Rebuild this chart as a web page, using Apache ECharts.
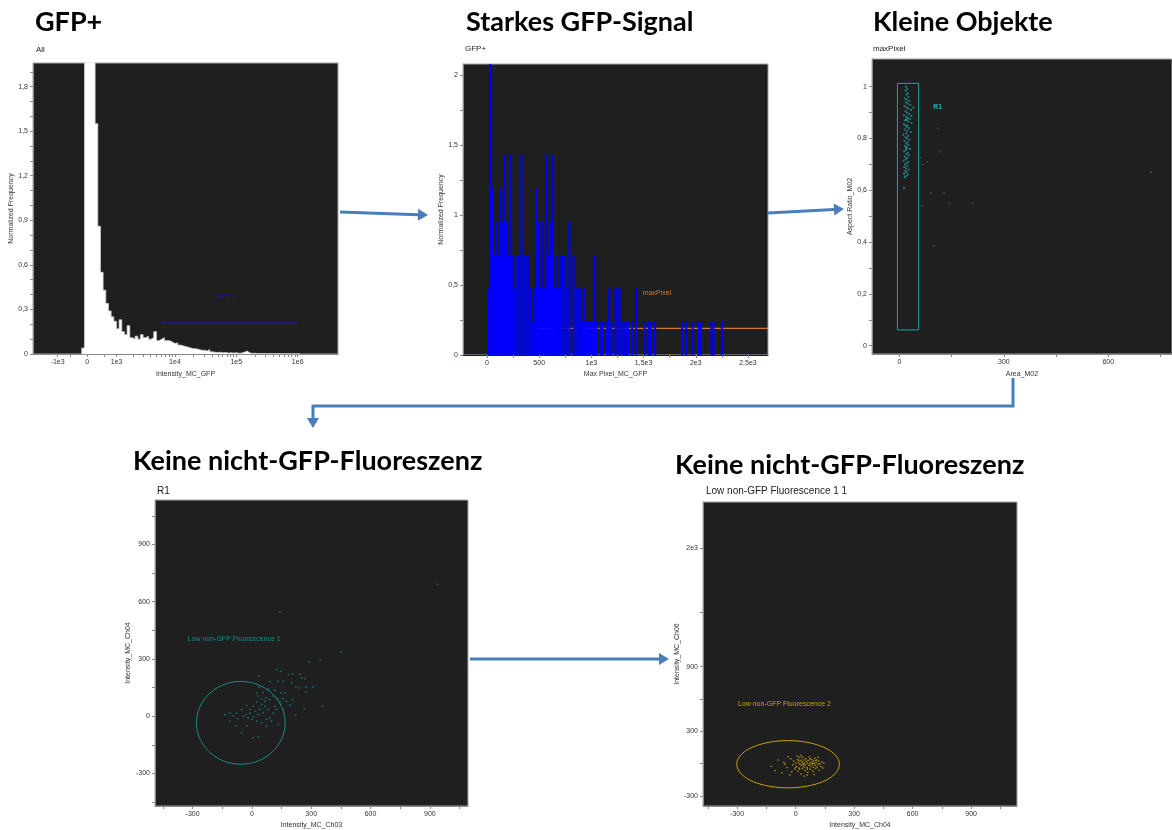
<!DOCTYPE html>
<html>
<head>
<meta charset="utf-8">
<script src="https://cdn.jsdelivr.net/npm/echarts@6/dist/echarts.min.js"></script>
<style>
  html, body { margin: 0; padding: 0; background: #ffffff; }
  #chart { width: 1172px; height: 830px; }
</style>
</head>
<body>
<div id="chart"></div>
<script>
// ---------------- Data ----------------

// Panel 1: Intensity_MC_GFP histogram (population "All").
// Bins are equal width on the asinh display scale, starting at gfpBinStart.
const gfpBinStart = -0.2;
const gfpBinWidth = 0.1;
const gfpFreq = [
  0.04, 2.9, 3.3, 3.1, 2.6, 1.55, 0.86, 0.55, 0.43, 0.34,
  0.29, 0.25, 0.22, 0.17, 0.23, 0.15, 0.13, 0.19, 0.11, 0.10,
  0.12, 0.10, 0.13, 0.11, 0.12, 0.10, 0.11, 0.15, 0.09, 0.10,
  0.11, 0.09, 0.09, 0.08, 0.07, 0.075, 0.06, 0.055, 0.05, 0.045,
  0.04, 0.035, 0.035, 0.03, 0.025, 0.025, 0.02, 0.03, 0.015, 0.012,
  0.01, 0.012, 0.008, 0.01, 0.006, 0.008, 0.006, 0.008, 0.005, 0.006,
  0.012, 0.02, 0.008, 0.004, 0.005, 0.003, 0.004, 0.002, 0.003, 0.002,
  0.004, 0.002, 0.002, 0.003, 0.001, 0.002, 0.001, 0.002, 0.001, 0.001,
  0.002, 0.001
];
const gfpTickValues = [-1000, 0, 1000, 10000, 100000, 1000000];
const gfpTickLabels = ['-1e3', '0', '1e3', '1e4', '1e5', '1e6'];
// GFP+ gate: [from, to, frequency level], label anchor [intensity, frequency]
const gfpGate = [6000, 1000000, 0.21];
const gfpGateLabel = [48000, 0.38];

// Panel 2: Max Pixel_MC_GFP histogram (population "GFP+"), 20-unit bins from 0.
const maxPixelBinWidth = 20;
const maxPixelFreq = [
  0.476, 2.14, 1.19, 0.714, 0.952, 0.714, 1.19, 0.952, 1.43, 0.952,
  0.714, 1.43, 0.714, 0.476, 0.714, 0.714, 1.43, 0.714, 0.714, 0.714,
  0.476, 0.238, 0.476, 1.19, 0.952, 0.476, 0.952, 0.476, 1.43, 0.714,
  0.952, 1.43, 0.476, 0.714, 0.476, 0.714, 0.714, 0.714, 0.476, 0.952,
  0, 0.714, 0.476, 0.476, 0.476, 0.238, 0.476, 0.238, 0.238, 0.238,
  0.238, 0.714, 0.238, 0, 0.238, 0.238, 0, 0.238, 0.476, 0.238,
  0, 0.476, 0.476, 0.476, 0.238, 0.238, 0.238, 0.238, 0, 0.238,
  0, 0.476, 0, 0, 0, 0.238, 0, 0.238, 0.238, 0,
  0.238, 0, 0, 0, 0, 0, 0, 0, 0, 0,
  0, 0, 0, 0.238, 0, 0.238, 0, 0, 0.238, 0,
  0, 0.238, 0.238, 0, 0, 0, 0, 0.238, 0.238, 0,
  0, 0, 0.238
];
const maxPixelGate = [447, 2692, 0.19];
const maxPixelGateLabel = [1493, 0.44];

// Panel 3: Area_M02 vs Aspect Ratio_M02 (population "maxPixel")
const r1Area = [
  19, 22, 17, 24, 20, 26, 15, 21, 28, 18, 23, 31, 14, 20, 25, 33, 17, 22, 28, 12,
  19, 24, 30, 16, 21, 26, 35, 13, 18, 23, 20, 27, 15, 22, 32, 19, 11, 25, 17, 21,
  28, 14, 23, 19, 26, 16, 21, 30, 18, 13, 24, 20, 27, 15, 22, 18, 12, 25, 20, 16,
  23, 14, 19, 26, 17, 21, 13, 24, 18, 15, 13, 34, 40, 20, 20, 20
];
const r1Aspect = [
  1.0, 0.99, 0.985, 0.975, 0.97, 0.96, 0.955, 0.95, 0.945, 0.94, 0.935, 0.93, 0.925, 0.92, 0.915, 0.91, 0.905, 0.9, 0.895, 0.89,
  0.885, 0.88, 0.875, 0.87, 0.87, 0.865, 0.86, 0.855, 0.85, 0.85, 0.845, 0.84, 0.835, 0.83, 0.825, 0.82, 0.815, 0.81, 0.805, 0.8,
  0.795, 0.79, 0.785, 0.78, 0.775, 0.77, 0.765, 0.76, 0.755, 0.75, 0.745, 0.74, 0.735, 0.73, 0.725, 0.72, 0.715, 0.71, 0.705, 0.7,
  0.695, 0.69, 0.685, 0.68, 0.675, 0.67, 0.665, 0.66, 0.655, 0.65, 0.61, 0.887, 0.92, 0.875, 0.76, 0.765
];
const otherArea = [110, 117, 60, 80, 66, 90, 128, 64, 144, 211, 98, 723];
const otherAspect = [0.84, 0.75, 0.727, 0.71, 0.70, 0.59, 0.59, 0.54, 0.55, 0.55, 0.385, 0.67];
// R1 gate rectangle: [areaMin, areaMax, aspectMin, aspectMax], label anchor
const r1Gate = [-6, 55, 0.061, 1.013];
const r1GateLabel = [97, 0.92];

// Panel 4: Intensity_MC_Ch03 vs Intensity_MC_Ch04 (population "R1")
const ch03 = [
  939, 142, 450, 346, 290, 37, 125, 145, 184, 206, 243, 253, 270, 91, 133, 159, 201, 223, 238, 273,
  310, 273, 116, 83, 147, 108, 130, 159, 175, 206, 192, 142, 265, 356, 221, 57, 74, 32, 24, 49,
  7, -10, -27, -52, -78, -94, -44, -19, 7, 32, 57, 83, 108, 133, 49, 24, 0, -27, -81, -111,
  7, 32, -52, 74, 91, 40, 66, 15, -10, -30, 116, 159, -71, -111, -137, 74, 99, 125, 167, 91,
  66, 49, 24, 37
];
const ch04 = [
  692, 547, 336, 295, 284, 209, 244, 235, 218, 221, 220, 200, 197, 180, 183, 183, 174, 153, 148, 152,
  153, 125, 136, 143, 122, 105, 92, 92, 78, 87, 58, 73, 38, 52, 5, 122, 96, 105, 73, 61,
  52, 35, 56, 35, 17, 0, 0, -9, -3, 9, 17, 35, 17, -44, -35, -26, -17, -52, -52, -26,
  -113, -108, -87, -17, -9, 35, 52, 26, 17, 9, 52, 35, -14, 17, 9, -52, -26, 35, 122, 87,
  78, 92, 122, 153
];
// Ellipse gate: [centerX, centerY, radiusX, radiusY], label anchor
const lowFluo1Gate = [-56, -35, 224, 217];
const lowFluo1Label = [-325, 406];

// Panel 5: Intensity_MC_Ch04 vs Intensity_MC_Ch06 (population "Low non-GFP Fluorescence 1 1")
const ch04b = [
  -125, -105, -90, -70, -60, -45, -30, -25, -15, -10, -5, 0, 5, 10, 12, 15, 18, 20, 22, 25,
  28, 30, 32, 35, 38, 40, 42, 45, 48, 50, 52, 55, 58, 60, 62, 65, 68, 70, 72, 75,
  78, 80, 82, 85, 88, 90, 92, 95, 98, 100, 103, 105, 108, 110, 115, 118, 120, 125, 130, 135,
  140, 145, -40, -20, 8, 28, 60, 45, 95, 115, -55, 0, 20, 35, 75, 88, 102, 60, 40, 15
];
const ch06 = [
  -25, -65, 35, -85, 10, -35, -105, 45, -10, 25, -50, 5, -25, 40, -70, 10, -40, 60, -5, 30,
  -95, -15, 15, -45, 0, 35, -30, 10, -65, -10, 45, 25, -35, 5, -80, 30, -15, 65, 0, -50,
  15, -25, 40, -5, -70, 25, -35, 5, 50, -15, -45, 10, 35, -30, -5, 25, -60, 0, -25, 15,
  -40, 5, 65, -75, 70, 75, -105, -115, -100, 60, -5, -35, -50, 60, 45, 5, 30, -50, -10, 30
];
const lowFluo2Gate = [-39, -5, 263, 219];
const lowFluo2Label = [-296, 550];

// Headings above each plot and the population captions
const panelTitles = ['GFP+', 'Starkes GFP-Signal', 'Kleine Objekte', 'Keine nicht-GFP-Fluoreszenz', 'Keine nicht-GFP-Fluoreszenz'];
const plotCaptions = ['All', 'GFP+', 'maxPixel', 'R1', 'Low non-GFP Fluorescence 1 1'];

// ---------------- Helpers ----------------

// asinh display transform used by the GFP intensity axis
const GFP_COFACTOR = 743;
const gfpScale = v => Math.asinh(v / GFP_COFACTOR);

const comma = v => String(v).replace('.', ',');
const AXIS_COLOR = '#8a8a8a';
const LABEL_FONT = { fontSize: 7, color: '#333', fontFamily: 'Liberation Sans, Arial, sans-serif' };

function axis(gridIndex, cfg) {
  return {
    type: 'value',
    gridIndex: gridIndex,
    min: cfg.min,
    max: cfg.max,
    name: cfg.name,
    nameLocation: 'middle',
    nameGap: cfg.nameGap,
    nameTextStyle: Object.assign({}, LABEL_FONT),
    splitLine: { show: false },
    axisLine: { show: true, onZero: false, lineStyle: { color: cfg.lineColor || AXIS_COLOR, width: 1 } },
    axisTick: { show: true, length: 3, lineStyle: { color: AXIS_COLOR }, customValues: cfg.ticks },
    minorTick: { show: false },
    axisLabel: Object.assign({ margin: 5, customValues: cfg.labels, formatter: cfg.formatter || comma }, LABEL_FONT)
  };
}

function ellipseGate(gate, label, color, labelText) {
  return function (params, api) {
    const pts = [];
    for (let a = 0; a < 360; a += 4) {
      const r = a * Math.PI / 180;
      pts.push(api.coord([gate[0] + gate[2] * Math.cos(r), gate[1] + gate[3] * Math.sin(r)]));
    }
    const lp = api.coord(label);
    return {
      type: 'group',
      children: [
        { type: 'polygon', shape: { points: pts }, style: { fill: 'none', stroke: color, lineWidth: 1 } },
        { type: 'text', x: lp[0], y: lp[1], style: { text: labelText, fill: color, fontSize: 7, fontFamily: 'Liberation Sans, Arial', verticalAlign: 'middle', align: 'left' } }
      ]
    };
  };
}

// ---------------- Option ----------------

const grids = [
  { left: 33, top: 63, width: 305, height: 291 },
  { left: 463, top: 64, width: 305, height: 291 },
  { left: 872, top: 59, width: 300, height: 295 },
  { left: 155, top: 500, width: 313, height: 307 },
  { left: 703, top: 502, width: 314, height: 305 }
].map(g => Object.assign(g, { show: true, backgroundColor: '#1f1f1f', borderColor: '#a5a5a5', borderWidth: 1, containLabel: false }));

// GFP axis tick marks: labelled decades plus minor decade steps
const gfpMinor = [];
[1000, 10000, 100000].forEach(d => { for (let m = 2; m <= 9; m++) gfpMinor.push(m * d); });
const gfpTickAll = gfpTickValues.concat([-500, 500], gfpMinor).map(gfpScale);

const xAxes = [
  axis(0, {
    min: -2.03, max: 9.41, name: 'Intensity_MC_GFP', nameGap: 17,
    labels: gfpTickValues.map(gfpScale), ticks: gfpTickAll,
    formatter: v => {
      let best = 0;
      gfpTickValues.forEach((t, i) => { if (Math.abs(gfpScale(t) - v) < Math.abs(gfpScale(gfpTickValues[best]) - v)) best = i; });
      return gfpTickLabels[best];
    }
  }),
  axis(1, {
    min: -230, max: 2692, name: 'Max Pixel_MC_GFP', nameGap: 16, lineColor: '#0000ff',
    labels: [0, 500, 1000, 1500, 2000, 2500],
    ticks: [0, 250, 500, 750, 1000, 1250, 1500, 1750, 2000, 2250, 2500],
    formatter: v => ({ 0: '0', 500: '500', 1000: '1e3', 1500: '1,5e3', 2000: '2e3', 2500: '2,5e3' })[v]
  }),
  axis(2, {
    min: -79, max: 783, name: 'Area_M02', nameGap: 17,
    labels: [0, 300, 600], ticks: [0, 150, 300, 450, 600, 750]
  }),
  axis(3, {
    min: -490, max: 1093, name: 'Intensity_MC_Ch03', nameGap: 16,
    labels: [-300, 0, 300, 600, 900],
    ticks: [-450, -300, -150, 0, 150, 300, 450, 600, 750, 900, 1050]
  }),
  axis(4, {
    min: -475, max: 1135, name: 'Intensity_MC_Ch04', nameGap: 16,
    labels: [-300, 0, 300, 600, 900],
    ticks: [-450, -300, -150, 0, 150, 300, 450, 600, 750, 900, 1050]
  })
];

const yAxes = [
  axis(0, {
    min: 0, max: 1.959, name: 'Normalized Frequency', nameGap: 17,
    labels: [0, 0.3, 0.6, 0.9, 1.2, 1.5, 1.8],
    ticks: [0, 0.1, 0.2, 0.3, 0.4, 0.5, 0.6, 0.7, 0.8, 0.9, 1.0, 1.1, 1.2, 1.3, 1.4, 1.5, 1.6, 1.7, 1.8, 1.9]
  }),
  axis(1, {
    min: 0, max: 2.078, name: 'Normalized Frequency', nameGap: 16,
    labels: [0, 0.5, 1, 1.5, 2],
    ticks: [0, 0.25, 0.5, 0.75, 1, 1.25, 1.5, 1.75, 2]
  }),
  axis(2, {
    min: -0.032, max: 1.107, name: 'Aspect Ratio_M02', nameGap: 18,
    labels: [0, 0.2, 0.4, 0.6, 0.8, 1],
    ticks: [0, 0.1, 0.2, 0.3, 0.4, 0.5, 0.6, 0.7, 0.8, 0.9, 1]
  }),
  axis(3, {
    min: -471, max: 1133, name: 'Intensity_MC_Ch04', nameGap: 23,
    labels: [-300, 0, 300, 600, 900],
    ticks: [-450, -300, -150, 0, 150, 300, 450, 600, 750, 900, 1050]
  }),
  axis(4, {
    min: -392, max: 2425, name: 'Intensity_MC_Ch06', nameGap: 20,
    labels: [-300, 300, 900, 2000],
    ticks: [-300, 0, 300, 600, 900, 1400, 2000],
    formatter: v => (v === 2000 ? '2e3' : String(v))
  })
];
yAxes.forEach(a => { a.nameRotate = 90; });

const series = [
  // Panel 1 histogram, drawn as a filled step outline over the bins
  {
    type: 'line', xAxisIndex: 0, yAxisIndex: 0, step: 'start', clip: true, silent: true,
    showSymbol: false, symbol: 'none',
    lineStyle: { color: '#cfcfcf', width: 0.8 },
    areaStyle: { color: '#ffffff', opacity: 1 },
    data: [[gfpBinStart, 0]].concat(gfpFreq.map((f, i) => [gfpBinStart + (i + 1) * gfpBinWidth, f]))
  },
  // GFP+ gate
  {
    type: 'custom', xAxisIndex: 0, yAxisIndex: 0, silent: true,
    data: [[gfpScale(gfpGate[0]), gfpGate[2]]],
    renderItem: (params, api) => {
      const p0 = api.coord([gfpScale(gfpGate[0]), gfpGate[2]]);
      const p1 = api.coord([gfpScale(gfpGate[1]), gfpGate[2]]);
      const lp = api.coord([gfpScale(gfpGateLabel[0]), gfpGateLabel[1]]);
      return { type: 'group', children: [
        { type: 'line', shape: { x1: p0[0], y1: p0[1], x2: p1[0], y2: p1[1] }, style: { stroke: '#1c1ca8', lineWidth: 1.2 } },
        { type: 'text', x: lp[0], y: lp[1], style: { text: 'GFP+', fill: '#1c1ca8', fontSize: 7, fontFamily: 'Liberation Sans, Arial', verticalAlign: 'middle' } }
      ] };
    }
  },
  // Panel 2 histogram
  {
    type: 'bar', xAxisIndex: 1, yAxisIndex: 1, barWidth: '100%', clip: true, silent: true,
    itemStyle: { color: '#0000ff' },
    data: maxPixelFreq.map((f, i) => [(i + 0.5) * maxPixelBinWidth, f])
  },
  // maxPixel gate
  {
    type: 'custom', xAxisIndex: 1, yAxisIndex: 1, silent: true,
    data: [[maxPixelGate[0], maxPixelGate[2]]],
    renderItem: (params, api) => {
      const p0 = api.coord([maxPixelGate[0], maxPixelGate[2]]);
      const p1 = api.coord([maxPixelGate[1], maxPixelGate[2]]);
      const lp = api.coord(maxPixelGateLabel);
      return { type: 'group', children: [
        { type: 'line', shape: { x1: p0[0], y1: p0[1], x2: p1[0], y2: p1[1] }, style: { stroke: '#c97a38', lineWidth: 1.2 } },
        { type: 'text', x: lp[0], y: lp[1], style: { text: 'maxPixel', fill: '#c97a38', fontSize: 7, fontFamily: 'Liberation Sans, Arial', verticalAlign: 'middle' } }
      ] };
    }
  },
  // Panel 3 scatter
  {
    type: 'scatter', xAxisIndex: 2, yAxisIndex: 2, symbol: 'rect', symbolSize: 1.6, silent: true,
    itemStyle: { color: '#6b5646' },
    data: otherArea.map((a, i) => [a, otherAspect[i]])
  },
  {
    type: 'scatter', xAxisIndex: 2, yAxisIndex: 2, symbol: 'rect', symbolSize: 1.8, silent: true,
    itemStyle: { color: '#1fa3a3' },
    data: r1Area.map((a, i) => [a, r1Aspect[i]])
  },
  // R1 gate
  {
    type: 'custom', xAxisIndex: 2, yAxisIndex: 2, silent: true,
    data: [[r1Gate[0], r1Gate[3]]],
    renderItem: (params, api) => {
      const tl = api.coord([r1Gate[0], r1Gate[3]]);
      const br = api.coord([r1Gate[1], r1Gate[2]]);
      const lp = api.coord(r1GateLabel);
      return { type: 'group', children: [
        { type: 'rect', shape: { x: tl[0], y: tl[1], width: br[0] - tl[0], height: br[1] - tl[1] }, style: { fill: 'none', stroke: '#1aa3a3', lineWidth: 1 } },
        { type: 'text', x: lp[0], y: lp[1], style: { text: 'R1', fill: '#1fb0b0', fontSize: 7, fontWeight: 'bold', fontFamily: 'Liberation Sans, Arial', verticalAlign: 'middle' } }
      ] };
    }
  },
  // Panel 4 scatter + ellipse gate
  {
    type: 'scatter', xAxisIndex: 3, yAxisIndex: 3, symbol: 'rect', symbolSize: 1.5, silent: true,
    itemStyle: { color: '#178f8f' },
    data: ch03.map((v, i) => [v, ch04[i]])
  },
  {
    type: 'custom', xAxisIndex: 3, yAxisIndex: 3, silent: true,
    data: [[lowFluo1Gate[0], lowFluo1Gate[1]]],
    renderItem: ellipseGate(lowFluo1Gate, lowFluo1Label, '#178c8c', 'Low non-GFP Fluorescence 1')
  },
  // Panel 5 scatter + ellipse gate
  {
    type: 'scatter', xAxisIndex: 4, yAxisIndex: 4, symbol: 'rect', symbolSize: 1.5, silent: true,
    itemStyle: { color: '#c9a400' },
    data: ch04b.map((v, i) => [v, ch06[i]])
  },
  {
    type: 'custom', xAxisIndex: 4, yAxisIndex: 4, silent: true,
    data: [[lowFluo2Gate[0], lowFluo2Gate[1]]],
    renderItem: ellipseGate(lowFluo2Gate, lowFluo2Label, '#c9a400', 'Low non-GFP Fluorescence 2')
  }
];

// ---------------- Headings, captions and flow arrows ----------------
const titleAnchors = [[35, 22], [466, 22], [873, 22], [133, 461], [675, 465]];
const captionAnchors = [[36, 50], [465, 49], [873, 49], [157, 491], [706, 491]];
const ARROW_COLOR = '#4a7ebb';
const arrowPaths = [
  [[340, 212], [428, 215]],
  [[768, 213], [844, 209]],
  [[1013, 378], [1013, 406], [313, 406], [313, 428]],
  [[470, 659], [669, 659]]
];

const graphics = [];
panelTitles.forEach((t, i) => graphics.push({
  type: 'text', x: titleAnchors[i][0], y: titleAnchors[i][1], silent: true,
  style: { text: t, fill: '#000', fontSize: 27, fontWeight: 'bold', fontFamily: 'Lato, "Open Sans", sans-serif', verticalAlign: 'middle' }
}));
plotCaptions.forEach((t, i) => graphics.push({
  type: 'text', x: captionAnchors[i][0], y: captionAnchors[i][1], silent: true,
  style: { text: t, fill: '#222', fontSize: i >= 3 ? 10 : 8, fontFamily: 'Liberation Sans, Arial, sans-serif', verticalAlign: 'middle' }
}));
arrowPaths.forEach(path => {
  const n = path.length;
  const tip = path[n - 1], prev = path[n - 2];
  const dx = tip[0] - prev[0], dy = tip[1] - prev[1];
  const len = Math.hypot(dx, dy), ux = dx / len, uy = dy / len;
  const head = 10, half = 6;
  const base = [tip[0] - ux * head, tip[1] - uy * head];
  const shaft = path.slice(0, n - 1).concat([base]);
  graphics.push({ type: 'polyline', silent: true, shape: { points: shaft }, style: { stroke: ARROW_COLOR, lineWidth: 3, fill: null } });
  graphics.push({
    type: 'polygon', silent: true,
    shape: { points: [tip, [base[0] - uy * half, base[1] + ux * half], [base[0] + uy * half, base[1] - ux * half]] },
    style: { fill: ARROW_COLOR }
  });
});

const chart = echarts.init(document.getElementById('chart'), null, { renderer: 'canvas' });
chart.setOption({
  backgroundColor: '#ffffff',
  animation: false,
  grid: grids,
  xAxis: xAxes,
  yAxis: yAxes,
  series: series,
  graphic: graphics
});
</script>
</body>
</html>
